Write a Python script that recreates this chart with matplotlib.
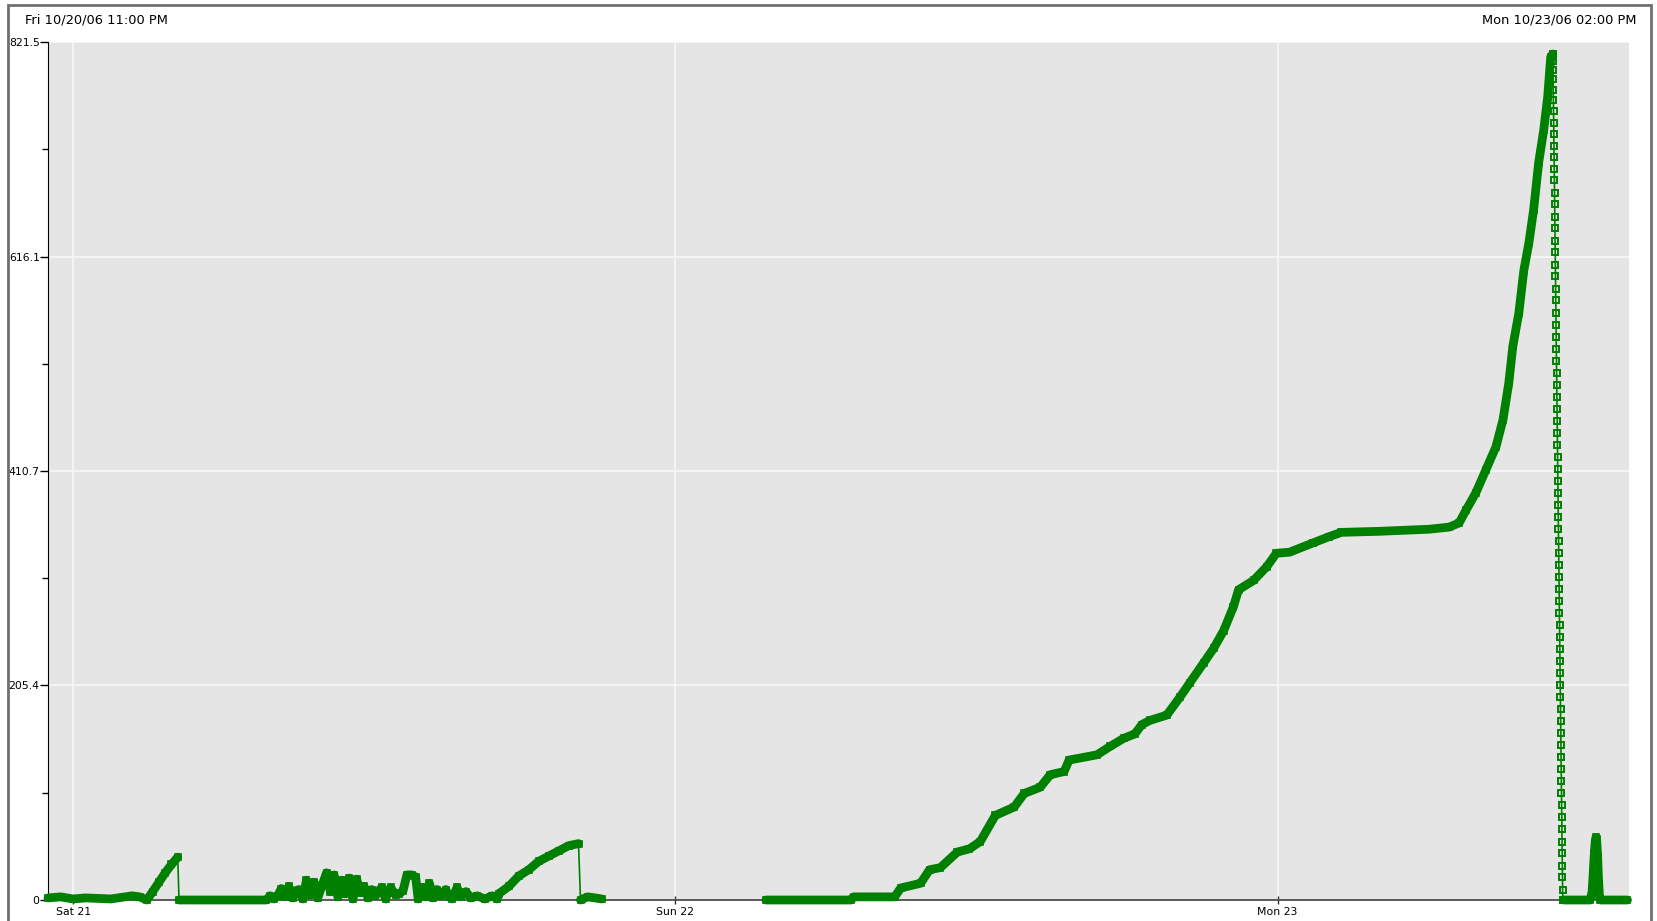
import matplotlib
matplotlib.use('Agg')
import matplotlib.pyplot as plt
import matplotlib.dates as mdates
from matplotlib.patches import Rectangle
import numpy as np
import pandas as pd

plt.rcParams['font.family'] = ['DejaVu Sans']

GREEN = '#008000'
start = pd.Timestamp('2006-10-20 23:00')
end = pd.Timestamp('2006-10-23 14:00')

# hours after Fri 10/20 23:00
sat_early_h = [0.0, 0.5, 1.0, 1.5, 2.5, 3.35, 3.65, 3.94, 4.17, 4.42, 4.67, 4.92, 5.17]
sat_early_v = [2, 3, 1, 2, 1, 4, 3, 0, 8, 17, 26, 34, 41]

sat_mid_h = [5.22, 8.70, 8.85, 9.00, 9.15, 9.30, 9.45, 9.60, 9.75, 9.88, 10.00, 10.15, 10.30,
             10.45, 10.60, 10.75, 10.92, 11.10, 11.25, 11.40, 11.55, 11.70, 11.85, 12.00,
             12.15, 12.30, 12.45, 12.60, 12.75, 12.90, 13.05, 13.18, 13.30, 13.45, 13.65,
             13.85, 14.00, 14.15, 14.30, 14.50, 14.65, 14.75, 14.90, 15.05, 15.20, 15.35,
             15.50, 15.65, 15.85, 15.98, 16.10, 16.30, 16.45, 16.65, 16.85, 17.10, 17.40,
             17.70, 17.90, 17.96, 18.36, 18.76, 19.16, 19.55, 19.95, 20.35, 20.75, 21.14]
sat_mid_v = [0, 0, 4, 1, 4, 11, 3, 13, 2, 9, 10, 1, 19,
             5, 17, 2, 14, 26, 8, 24, 3, 19, 6, 21,
             1, 20, 7, 13, 2, 10, 4, 9, 12, 1, 12,
             5, 6, 9, 24, 24, 22, 1, 12, 3, 16, 2,
             10, 4, 10, 3, 1, 12, 3, 8, 2, 4, 1,
             4, 1, 6, 13, 23, 29, 37, 42, 47, 52, 54]

sat_late_h = [21.22, 21.50, 21.80, 22.06]
sat_late_v = [0, 3, 2, 1]

sun_h = [28.61, 31.99, 32.10, 33.74, 33.98, 34.77, 35.13, 35.56, 36.24, 36.72, 37.15, 37.75,
         38.50, 38.90, 39.54, 39.94, 40.49, 40.69, 41.80, 42.32, 42.88, 43.31, 43.59, 43.91,
         44.58, 45.10, 45.50, 46.05, 46.45, 46.85, 47.24, 47.44, 48.04, 48.56, 48.95, 49.47,
         50.42, 51.06, 51.54, 53.05, 55.03, 55.83, 56.23, 56.50, 56.90, 57.30, 57.70, 57.98,
         58.21, 58.37, 58.61, 58.81, 59.01, 59.20, 59.40, 59.60, 59.76, 59.88, 59.96]
sun_v = [0, 0, 3, 3, 11.5, 16, 29, 31, 46, 49, 56, 81,
         89, 102, 108, 120, 123, 134, 139, 147, 155, 159, 168, 172,
         177, 194, 208, 227, 241, 258, 281, 297, 306, 319, 332, 333,
         342, 348, 352, 353, 355, 357, 361, 373, 390, 412, 434, 460,
         495, 530, 562, 603, 629, 661, 706, 737, 769, 807, 810]

# fast drop after the peak, logged every 20 s
fall_v = [810, 803, 795, 786, 776, 766, 755, 744, 733, 722, 711, 700, 689, 677, 666, 654,
          643, 631, 620, 608, 597, 585, 574, 562, 551, 539, 528, 516, 505, 493, 482, 470,
          459, 447, 436, 424, 413, 401, 390, 378, 367, 355, 344, 332, 321, 309, 298, 286,
          275, 263, 252, 240, 229, 217, 206, 194, 183, 171, 160, 148, 137, 125, 114, 102,
          91, 79, 68, 56, 45, 33, 22, 10, 0]

tail_h = [60.40, 61.45, 61.53, 61.56, 61.59, 61.62, 61.65, 61.68, 61.71, 61.75, 61.78,
          61.82, 61.86, 62.94]
tail_v = [0, 0, 8, 20, 33, 45, 55, 60, 58, 42, 22, 5, 0, 0]

yticks = [0, 205.4, 410.7, 616.1, 821.5]
ytick_labels = ['0', '205.4', '410.7', '616.1', '821.5']


def tx(hours):
    # hours after start -> matplotlib date numbers
    return mdates.date2num(start) + np.asarray(hours, dtype=float) / 24.0


fall_x = tx(sun_h[-1]) + np.arange(len(fall_v)) * 20 / 86400.0

fig = plt.figure(figsize=(16.58, 9.21), dpi=100)
ax = fig.add_axes([48 / 1658, 1 - 900 / 921, (1629 - 48) / 1658, (900 - 42) / 921])
ax.set_facecolor('#e5e5e5')

# thin line through everything, broken across the gap on Sunday morning
all_x = np.concatenate([tx(sat_early_h), tx(sat_mid_h), tx(sat_late_h), [np.nan],
                        tx(sun_h), fall_x, tx(tail_h)])
all_v = sat_early_v + sat_mid_v + sat_late_v + [np.nan] + sun_v + fall_v + tail_v
ax.plot(all_x, all_v, color=GREEN, lw=1.2, zorder=4, clip_on=False)

for h, v in [(sat_early_h, sat_early_v), (sat_mid_h, sat_mid_v), (sat_late_h, sat_late_v),
             (sun_h, sun_v), (tail_h, tail_v)]:
    ax.plot(tx(h), v, color=GREEN, lw=6.3, solid_joinstyle='round', solid_capstyle='round',
            marker='s', ms=5, mfc='none', mec=GREEN, mew=1.2, zorder=5, clip_on=False)

ax.plot(fall_x, fall_v, ls='none', marker='s', ms=5, mfc='none', mec=GREEN, mew=1.4,
        zorder=5, clip_on=False)

ax.set_xlim(mdates.date2num(start), mdates.date2num(end))
ax.set_ylim(0, 821.5)
ax.set_yticks(yticks)
ax.set_yticklabels(ytick_labels)
ax.set_yticks([102.7, 308.05, 513.4, 718.8], minor=True)
ax.xaxis.set_major_locator(mdates.DayLocator())
ax.xaxis.set_major_formatter(mdates.DateFormatter('%a %d'))

ax.tick_params(axis='y', which='major', length=6, width=1, pad=0, labelsize=7.8)
ax.tick_params(axis='y', which='minor', length=4, width=1)
ax.tick_params(axis='x', which='major', direction='inout', length=6, width=1, pad=2,
               labelsize=7.8, color='#333333')

ax.grid(True, which='major', color='#f8f8f8', lw=1.2)
ax.set_axisbelow(True)
for s in ['top', 'right']:
    ax.spines[s].set_visible(False)
ax.spines['left'].set_color('black')
ax.spines['bottom'].set_color('#404040')
ax.spines['bottom'].set_linewidth(1.2)

fig.text(25 / 1658, 1 - 20 / 921, 'Fri 10/20/06 11:00 PM', fontsize=9.4, va='center', ha='left')
fig.text(1637 / 1658, 1 - 20 / 921, 'Mon 10/23/06 02:00 PM', fontsize=9.4, va='center', ha='right')

fig.patches.append(Rectangle((8 / 1658, -0.05), (1651 - 8) / 1658, 1.05 - 5 / 921,
                             transform=fig.transFigure, fill=False, ec='#707070', lw=2))

fig.savefig('out.png', dpi=100)
